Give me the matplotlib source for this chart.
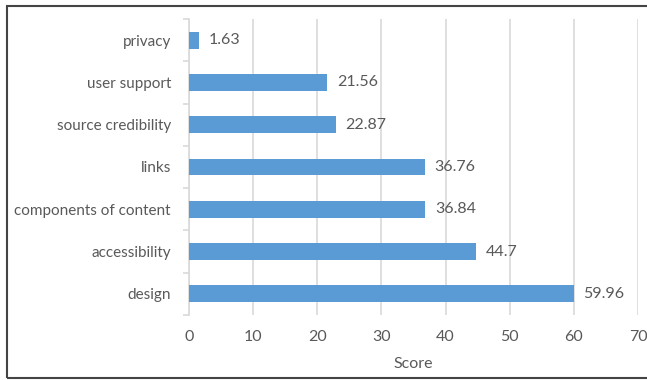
import matplotlib
matplotlib.use('Agg')
import matplotlib.pyplot as plt
from matplotlib.patches import Rectangle

categories = ['design', 'accessibility', 'components of content', 'links',
              'source credibility', 'user support', 'privacy']
scores = [59.96, 44.7, 36.84, 36.76, 22.87, 21.56, 1.63]
score_labels = ['59.96', '44.7', '36.84', '36.76', '22.87', '21.56', '1.63']
x_ticks = [0, 10, 20, 30, 40, 50, 60, 70]

plt.rcParams['font.family'] = ['Lato', 'DejaVu Sans']
text_color = '#595959'
bar_color = '#5B9BD5'
grid_color = '#D9D9D9'

fig = plt.figure(figsize=(6.47, 3.80), dpi=100)
ax = fig.add_axes([189 / 647, 65 / 380, (638 - 189) / 647, (315 - 19) / 380])

y = list(range(len(categories)))
ax.barh(y, scores, height=0.4, color=bar_color, zorder=3)
for yi, v, lab in zip(y, scores, score_labels):
    ax.annotate(lab, (v, yi), xytext=(7, 0), textcoords='offset points',
                va='center', ha='left', fontsize=11.5, color=text_color)

ax.set_xlim(0, 70)
ax.set_ylim(-0.5, len(categories) - 0.5)
ax.set_xticks(x_ticks)
ax.set_yticks(y)
ax.set_yticklabels(categories)
ax.set_yticks([i - 0.5 for i in range(len(categories) + 1)], minor=True)

ax.grid(True, axis='x', color=grid_color, linewidth=1.2, zorder=0)
for s in ['top', 'right', 'bottom']:
    ax.spines[s].set_visible(False)
ax.spines['left'].set_color(grid_color)
ax.spines['left'].set_linewidth(1.2)

ax.tick_params(axis='y', which='major', length=0, pad=13, labelsize=11, labelcolor=text_color)
ax.tick_params(axis='y', which='minor', length=4, color=grid_color, width=1.2)
ax.tick_params(axis='x', length=0, pad=11, labelsize=11.5, labelcolor=text_color)
ax.set_xlabel('Score', fontsize=11.5, color=text_color, labelpad=9)

fig.add_artist(Rectangle((7 / 647, 2 / 380), 1.0, 372 / 380, transform=fig.transFigure,
                         fill=False, edgecolor='#444444', linewidth=1.5, clip_on=False))

fig.savefig('out.png', dpi=100)
